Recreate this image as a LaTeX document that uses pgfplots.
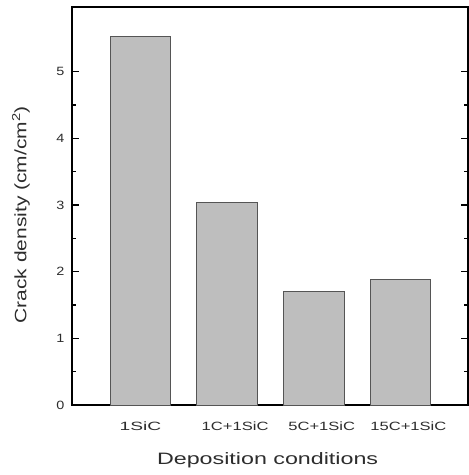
\documentclass[border=0pt]{standalone}
\usepackage{fontspec}
\setmainfont{Liberation Sans}
\usepackage{graphicx}
\usepackage{pgfplots}
\pgfplotsset{compat=1.18}
\definecolor{barfill}{RGB}{190,190,190}
\definecolor{baredge}{RGB}{85,85,85}
\definecolor{txt}{RGB}{45,45,45}
\newcommand{\wide}[2][1.35]{\scalebox{#1}[1]{#2}}
\begin{document}
\begin{tikzpicture}
\begin{axis}[
  scale only axis, width=396pt, height=398pt,
  xmin=-0.79, xmax=3.78, ymin=0, ymax=5.97,
  axis line style={line width=1.6pt, black},
  xtick={0,1,2,3},
  xticklabels={\wide[1.6]{1SiC},\hspace*{16pt}\wide[1.38]{1C+1SiC},\hspace*{16pt}\wide[1.38]{5C+1SiC},\hspace*{16pt}\wide[1.38]{15C+1SiC}},
  x tick style={draw=none},
  ytick={0,1,2,3,4,5},
  yticklabels={\wide[1.2]{0},\wide[1.2]{1},\wide[1.2]{2},\wide[1.2]{3},\wide[1.2]{4},\wide[1.2]{5}},
  minor y tick num=1,
  tick align=inside,
  major tick length=7pt, minor tick length=4pt,
  y tick style={line width=1.2pt, black},
  ticklabel style={font=\fontsize{12}{14}\selectfont, text=txt},
  yticklabel style={xshift=-4pt},
  xticklabel style={yshift=-13pt},
  xlabel={\wide[1.41]{Deposition conditions}},
  ylabel={\wide[1.27]{Crack density (cm/cm\textsuperscript{2})}},
  label style={font=\fontsize{16.5}{18}\selectfont, text=txt},
  xlabel style={at={(axis description cs:0.494,-0.138)}, anchor=center},
  ylabel style={at={(axis description cs:-0.129,0.478)}, anchor=center},
  clip=false,
]
\addplot[ybar, bar width=0.7, fill=barfill, draw=baredge, line width=1pt]
  coordinates {(0,5.52) (1,3.03) (2,1.70) (3,1.88)};
\path (rel axis cs:0,0) coordinate (O);
\end{axis}
\pgfresetboundingbox
\path[use as bounding box] (O) ++(-72pt,-70pt) rectangle ++(469pt,475pt);
\end{tikzpicture}
\end{document}
